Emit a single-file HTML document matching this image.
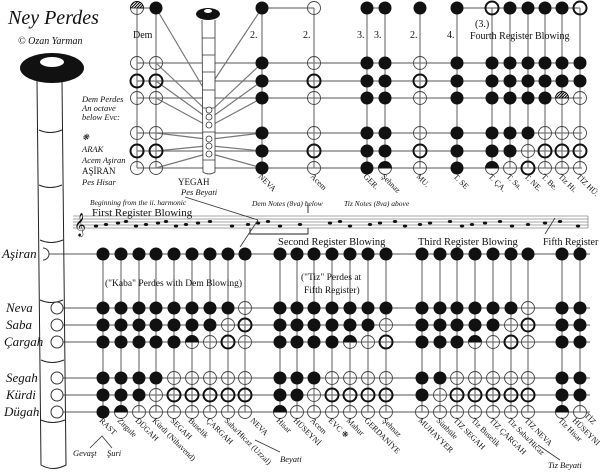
<!DOCTYPE html>
<html><head><meta charset="utf-8"><style>
html,body{margin:0;padding:0;background:#fff;width:600px;height:475px;overflow:hidden}
svg{display:block}
text{font-family:"Liberation Serif",serif;fill:#111}
.i{font-style:italic}
</style></head><body>
<div style="position:relative;width:600px;height:475px">
<svg id="s" width="600" height="475" viewBox="0 0 600 475" xmlns="http://www.w3.org/2000/svg" style="position:absolute;left:0;top:0">
<defs>
<pattern id="hat" width="2" height="2" patternUnits="userSpaceOnUse" patternTransform="rotate(45)"><rect width="1" height="2" fill="#000"/></pattern>
</defs>
<g id="lines" stroke="#777" stroke-width="1.2" fill="none"></g>
<g stroke="#222" stroke-width="1" fill="none">
<path d="M37 80 L41 465 Q53 472 66 465 L62 80"/>
<path d="M39 130 Q50 135 62 130 M39 185 Q50 190 62 185 M40 240 Q51 245 63 240 M40 300 Q51 305 63 300 M41 360 Q52 365 64 360 M41 420 Q52 425 65 420"/>
</g>
<ellipse cx="52" cy="68" rx="32" ry="15" fill="#111"/>
<ellipse cx="52" cy="62" rx="12" ry="5" fill="#fff"/>
<g fill="#fff" stroke="#333" stroke-width="1">
<circle cx="57" cy="308" r="6"/><circle cx="57" cy="325" r="6"/><circle cx="57" cy="342" r="6"/>
<circle cx="57" cy="378" r="6"/><circle cx="57" cy="395" r="6"/><circle cx="57" cy="412" r="6"/>
<path d="M43 248 A6 6 0 0 1 43 260"/>
</g>
<g stroke="#333" stroke-width="0.8" fill="#fff">
<path d="M202 20 L203 172 Q209 176 215 172 L215 20"/>
<path d="M202 38 H215 M202 55 H215 M202 72 H215 M203 90 H215 M203 108 H215 M203 132 H215 M203 160 H215" fill="none"/>
<circle cx="209" cy="110" r="3"/><circle cx="209" cy="117" r="3"/><circle cx="209" cy="125" r="3"/>
<circle cx="209" cy="139" r="3"/><circle cx="209" cy="146" r="3"/><circle cx="209" cy="154" r="3"/>
</g>
<ellipse cx="208" cy="14" rx="12" ry="6" fill="#111"/>
<ellipse cx="208" cy="11" rx="4" ry="2" fill="#fff"/>
<g stroke="#888" stroke-width="0.8">
<line x1="73" y1="216" x2="588" y2="216"/><line x1="73" y1="219" x2="588" y2="219"/><line x1="73" y1="222" x2="588" y2="222"/><line x1="73" y1="225" x2="588" y2="225"/><line x1="73" y1="228" x2="588" y2="228"/>
<line x1="588" y1="216" x2="588" y2="228"/>
</g>
<text x="74" y="231" font-size="20">𝄞</text>
<g stroke="#222" stroke-width="0.9" fill="none"><path d="M250 228 V234 H308 V228"/><path d="M308 205 V213"/></g>
<g id="notes" fill="#111"></g>
<g id="circ"></g>
<text x="8" y="24" font-size="20" class="i">Ney Perdes</text>
<text x="18" y="44" font-size="10" class="i">© Ozan Yarman</text>
<g font-size="8.5" class="i">
<text x="82" y="102">Dem Perdes</text><text x="82" y="111">An octave</text><text x="82" y="120">below Evc:</text>
<text x="82" y="140">❋</text><text x="82" y="152">ARAK</text><text x="82" y="163">Acem Aşiran</text>
<text x="82" y="185">Pes Hisar</text>
</g>
<text x="82" y="174" font-size="9">AŞİRAN</text>
<text x="178" y="185" font-size="9">YEGAH</text>
<text x="181" y="195" font-size="8.5" class="i">Pes Beyati</text>
<text x="133" y="38" font-size="10">Dem</text>
<g font-size="10"><text x="250" y="38">2.</text><text x="303" y="38">2.</text><text x="357" y="38">3.</text><text x="374" y="38">3.</text><text x="410" y="38">2.</text><text x="447" y="38">4.</text><text x="475" y="27">(3.)</text></g>
<text x="470" y="39" font-size="10">Fourth Register Blowing</text>
<text x="90" y="205" font-size="7.5" class="i">Beginning from the ii. harmonic</text>
<text x="92" y="216" font-size="11">First Register Blowing</text>
<text x="252" y="206" font-size="7.5" class="i">Dem Notes (8va) below</text>
<text x="344" y="206" font-size="7.5" class="i">Tiz Notes (8va) above</text>
<text x="278" y="245" font-size="10.5">Second Register Blowing</text>
<text x="418" y="245" font-size="10.5">Third Register Blowing</text>
<text x="543" y="245" font-size="10">Fifth Register</text>
<text x="105" y="286" font-size="9.5">("Kaba" Perdes with Dem Blowing)</text>
<text x="301" y="280" font-size="9.5">("Tiz" Perdes at</text>
<text x="304" y="293" font-size="9.5">Fifth Register)</text>
<g font-size="13" class="i">
<text x="2" y="258">Aşiran</text><text x="6" y="312">Neva</text><text x="6" y="329">Saba</text><text x="4" y="346">Çargah</text>
<text x="6" y="382">Segah</text><text x="6" y="399">Kürdi</text><text x="4" y="416">Dügah</text>
</g>
<g font-size="8.5" class="i"><text x="73" y="456">Gevaşt</text><text x="107" y="456">Şuri</text><text x="280" y="462">Beyati</text><text x="548" y="468">Tiz Beyati</text></g>
<g stroke="#333" stroke-width="0.8" fill="none"><path d="M90 448 L102 436 L112 448"/><path d="M255 440 L280 452"/><path d="M538 445 L560 460"/><path d="M185 197 L258 220"/><path d="M258 220 L240 247"/><path d="M545 234 L555 218"/></g>
<g font-size="8">
<text transform="translate(99,421) rotate(45)">RAST</text>
<text transform="translate(117,421) rotate(45)">Zirgule</text>
<text transform="translate(135,421) rotate(45)">DÜGAH</text>
<text transform="translate(152,421) rotate(45)">Kürdi (Nihavend)</text>
<text transform="translate(170,421) rotate(45)">SEGAH</text>
<text transform="translate(188,421) rotate(45)">Buselik</text>
<text transform="translate(206,421) rotate(45)">ÇARGAH</text>
<text transform="translate(224,421) rotate(45)">Saba/Hicaz (Uzzal)</text>
<text transform="translate(250,421) rotate(45)">NEVA</text>
<text transform="translate(276,421) rotate(45)">Hisar</text>
<text transform="translate(293,421) rotate(45)">HÜSEYNİ</text>
<text transform="translate(310,421) rotate(45)">Acem</text>
<text transform="translate(328,421) rotate(45)">EVC ❋</text>
<text transform="translate(346,421) rotate(45)">Mahur</text>
<text transform="translate(364,421) rotate(45)">GERDANİYE</text>
<text transform="translate(382,421) rotate(45)">Şehnaz</text>
<text transform="translate(418,421) rotate(45)">MUHAYYER</text>
<text transform="translate(436,421) rotate(45)">Sünbüle</text>
<text transform="translate(453,421) rotate(45)">TİZ SEGAH</text>
<text transform="translate(471,421) rotate(45)">Tiz Buselik</text>
<text transform="translate(489,421) rotate(45)">TİZ ÇARGAH</text>
<text transform="translate(507,421) rotate(45)">Tiz Saba/Hicaz</text>
<text transform="translate(524,421) rotate(45)">TİZ NEVA</text>
<text transform="translate(558,421) rotate(45)">Tiz Hisar</text>
<text transform="translate(572,421) rotate(45)">HÜSEYNİ</text>
<text transform="translate(584,416) rotate(45)">TİZ</text>
<text transform="translate(258,177) rotate(45)">NEVA</text>
<text transform="translate(310,177) rotate(45)">Acem</text>
<text transform="translate(363,177) rotate(45)">GER.</text>
<text transform="translate(381,177) rotate(45)">Şehnaz</text>
<text transform="translate(416,177) rotate(45)">MU.</text>
<text transform="translate(453,177) rotate(45)">T. SE</text>
<text transform="translate(488,177) rotate(45)">T. ÇA.</text>
<text transform="translate(506,177) rotate(45)">T. Sa.</text>
<text transform="translate(524,177) rotate(45)">T. NE.</text>
<text transform="translate(541,177) rotate(45)">T. Be.</text>
<text transform="translate(558,177) rotate(45)">Tiz Hi.</text>
<text transform="translate(576,177) rotate(45)">TİZ HÜ.</text>
</g>
</svg>
</div>
<script>
var NS="http://www.w3.org/2000/svg";
function el(p,t,a){var e=document.createElementNS(NS,t);for(var k in a)e.setAttribute(k,a[k]);p.appendChild(e);return e;}
var L=document.getElementById('lines'),C=document.getElementById('circ'),N=document.getElementById('notes');
function ln(a,b,c,d){el(L,'line',{x1:a,y1:b,x2:c,y2:d});}
function circ(x,y,t){var r=6.5;
 if(t=='F')el(C,'circle',{cx:x,cy:y,r:r,fill:'#111'});
 else if(t=='O')el(C,'circle',{cx:x,cy:y,r:r,fill:'none',stroke:'#444','stroke-width':0.9});
 else if(t=='T')el(C,'circle',{cx:x,cy:y,r:r,fill:'none',stroke:'#111','stroke-width':2});
 else if(t=='H'||t=='X'){el(C,'circle',{cx:x,cy:y,r:r,fill:'none',stroke:'#444','stroke-width':0.9});
  el(C,'path',{d:'M'+(x-r)+' '+y+' A'+r+' '+r+' 0 0 1 '+(x+r)+' '+y+' Z',fill:t=='H'?'#111':'url(#hat)',stroke:'#111','stroke-width':0.8});}
}
var BR=[254,308,325,342,378,395,412];
var BC=[103,121,139,156,174,192,210,228,245,280,297,314,332,350,368,386,422,440,457,475,493,511,528,562,580];
var BS=[
"FFFFFFFFF"+"FFFFFFF"+"FFFFFFF"+"FF",
"FFFFFFFFO"+"FFFFFFF"+"FFFFFFO"+"FF",
"FFFFFFFOT"+"FFFFFFO"+"FFFFFOT"+"FF",
"FFFFFHOTO"+"FFFFHOT"+"FFFHOTO"+"FF",
"FFFFOOOOO"+"FFFOOOO"+"FFOOOOO"+"FF",
"FFFOTTTTT"+"FFOTTTT"+"FOTTTTT"+"FF",
"FHOOOOOOO"+"HOOOOOO"+"OOOOOOO"+"HO"];
ln(45,254,590,254);for(var i=1;i<7;i++)ln(60,BR[i],590,BR[i]);
BC.forEach(function(x){ln(x,254,x,412);});
BS.forEach(function(s,i){for(var j=0;j<s.length;j++)circ(BC[j],BR[i],s[j]);});
var TR=[8,63,81,98,133,151,168];
var TC=[137,156,262,314,367,385,420,457,492,510,528,545,562,580];
var TS=["XFFOFFFFTFFFFT",
"OOFOFFOFFFFFFF","TTFTFFTFFFFFFF","OOFOFFOFFFFFXO","OOFOFFOFFFFOOO","TTFTFFTFFFOTTT","OOFOFHOFHOTOOO"];
for(i=1;i<7;i++)ln(137,TR[i],582,TR[i]);
ln(137,8,156,8);ln(262,8,314,8);ln(367,8,385,8);ln(457,8,580,8);
TC.forEach(function(x){ln(x,8,x,168);});
var H=[110,117,125,139,146,154];
ln(156,8,204,89);ln(262,8,213,82);
for(i=0;i<6;i++){ln(156,TR[i+1],206,H[i]);ln(262,TR[i+1],212,H[i]);}
TS.forEach(function(s,i){for(var j=0;j<s.length;j++)circ(TC[j],TR[i],s[j]);});
var nx=[96,106,118,126,136,146,158,166,176,186,198,210,232,248,258,268,280,300,330,340,350,370,380,395,405,420,430,450,462,472,485,500,512,528,545,560,578];
nx.forEach(function(x,k){el(N,'ellipse',{cx:x,cy:226-(k%4)*1.5,rx:2.2,ry:1.5});});
</script>
</body></html>
